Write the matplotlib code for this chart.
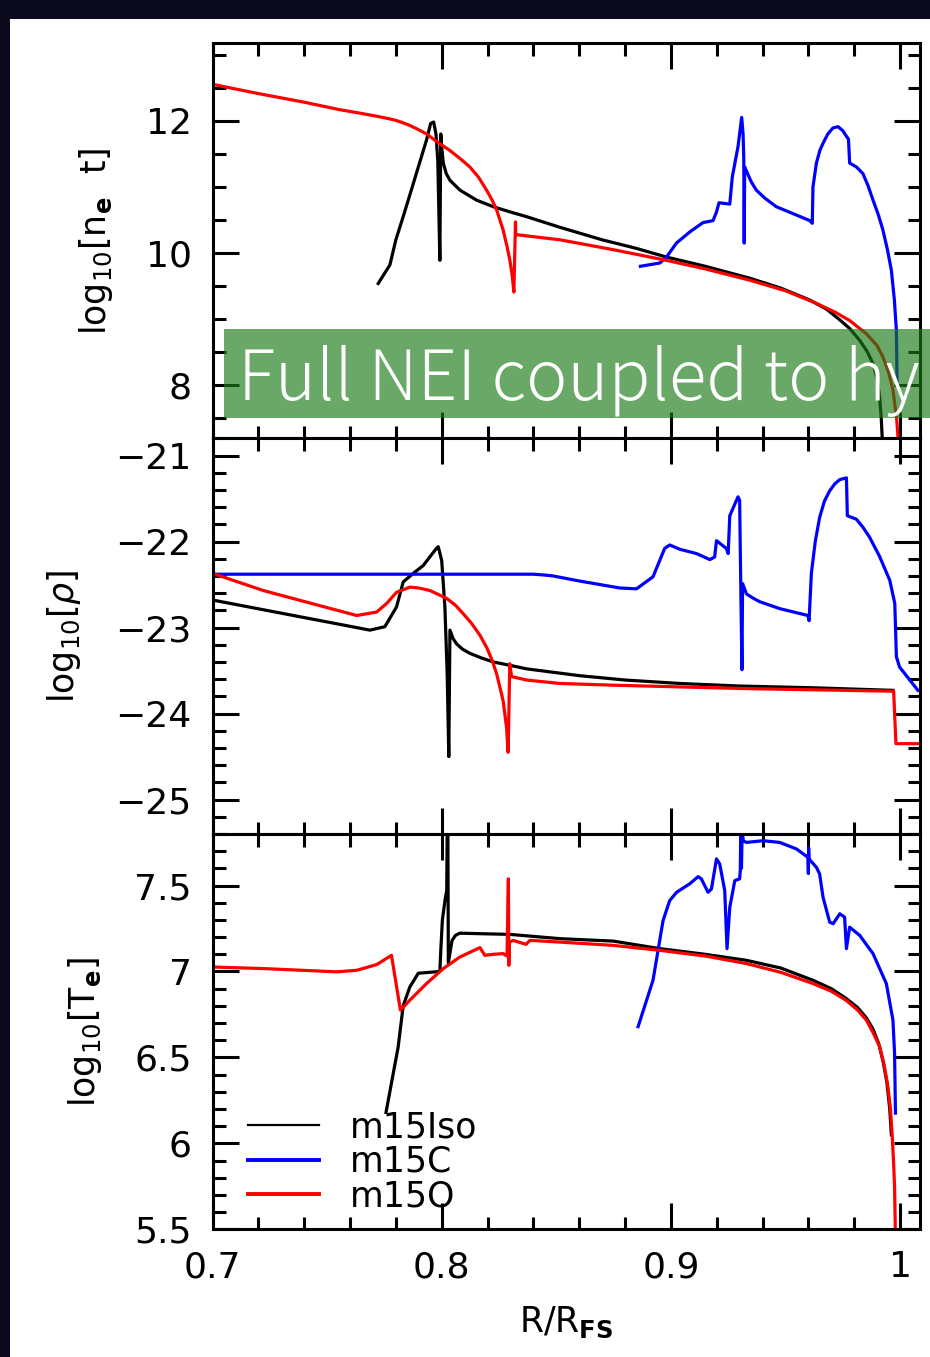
import matplotlib
matplotlib.use("Agg")
import matplotlib.pyplot as plt
from matplotlib.ticker import MultipleLocator, FuncFormatter
from matplotlib.patches import Rectangle

PLOT_FONT = "DejaVu Sans"
BANNER_FONT = "Noto Sans CJK JP"
plt.rcParams["font.family"] = [PLOT_FONT]
plt.rcParams["mathtext.fontset"] = "custom"
plt.rcParams["mathtext.rm"] = PLOT_FONT
plt.rcParams["mathtext.it"] = PLOT_FONT + ":italic"
plt.rcParams["mathtext.bf"] = PLOT_FONT + ":bold"
plt.rcParams["axes.unicode_minus"] = True

# ---------------- data: radius R/R_FS and profiles ----------------
series_names = ["m15Iso", "m15C", "m15O"]
series_colors = ["#000000", "#0000ff", "#ff0000"]

# log10[n_e t]
iso_r_net = [0.7723, 0.7774, 0.7800, 0.7832, 0.7870, 0.7905, 0.7934, 0.7952, 0.7965, 0.7975,
             0.7983, 0.7989, 0.7992, 0.7996, 0.8000, 0.8007, 0.8020, 0.8036, 0.808, 0.8152,
             0.8225, 0.830, 0.837, 0.8515, 0.870, 0.885, 0.898, 0.915, 0.9344, 0.948,
             0.9606, 0.968, 0.9737, 0.978, 0.9824, 0.9855, 0.9882, 0.9900, 0.9911, 0.9918,
             0.9925]
iso_net = [9.54, 9.82, 10.20, 10.55, 10.98, 11.38, 11.71, 11.96, 11.98, 11.80,
           11.40, 10.40, 9.89, 11.80, 11.60, 11.36, 11.20, 11.10, 10.95, 10.80,
           10.70, 10.62, 10.55, 10.39, 10.20, 10.07, 9.94, 9.80, 9.62, 9.47,
           9.29, 9.15, 8.99, 8.86, 8.68, 8.52, 8.33, 8.10, 7.82, 7.50,
           7.00]
c_r_net = [0.8867, 0.8952, 0.8981, 0.9024, 0.9083, 0.914, 0.9184, 0.9199, 0.921, 0.9257,
           0.9268, 0.9293, 0.9309, 0.9315, 0.9318, 0.9320, 0.9322, 0.9335, 0.9350, 0.9373,
           0.941, 0.946, 0.953, 0.9606, 0.9617, 0.9620, 0.9635, 0.9650, 0.9664, 0.9685,
           0.9707, 0.9729, 0.9750, 0.9765, 0.9775, 0.9780, 0.9810, 0.9838, 0.9860, 0.9882,
           0.9905, 0.9925, 0.9945, 0.9962, 0.9975, 0.9984, 0.9987]
c_net = [9.80, 9.85, 9.94, 10.15, 10.32, 10.46, 10.49, 10.62, 10.76, 10.74,
         11.15, 11.61, 12.05, 11.80, 11.45, 10.15, 11.30, 11.20, 11.08, 10.95,
         10.83, 10.70, 10.60, 10.49, 10.45, 11.00, 11.36, 11.55, 11.66, 11.80,
         11.89, 11.91, 11.85, 11.77, 11.72, 11.36, 11.30, 11.20, 11.02, 10.80,
         10.58, 10.35, 10.05, 9.74, 9.30, 8.83, 8.03]
o_r_net = [0.7, 0.72, 0.74, 0.755, 0.765, 0.772, 0.777, 0.780, 0.783, 0.786,
           0.789, 0.7934, 0.798, 0.8036, 0.809, 0.8123, 0.816, 0.8196, 0.822, 0.824,
           0.8268, 0.8285, 0.8297, 0.8308, 0.8315, 0.8322, 0.8323, 0.8345, 0.8516, 0.875,
           0.898, 0.915, 0.9344, 0.950, 0.9635, 0.972, 0.978, 0.9853, 0.990, 0.9925,
           0.995, 0.9969, 0.9985, 0.9991, 0.9995]
o_net = [12.55, 12.41, 12.28, 12.17, 12.11, 12.065, 12.03, 12.005, 11.97, 11.93,
         11.88, 11.80, 11.68, 11.55, 11.40, 11.30, 11.15, 10.95, 10.80, 10.65,
         10.35, 10.10, 9.90, 9.65, 9.41, 10.47, 10.28, 10.27, 10.20, 10.05,
         9.89, 9.76, 9.59, 9.43, 9.24, 9.10, 8.98, 8.78, 8.60, 8.43,
         8.20, 7.93, 7.50, 7.22, 7.00]

# log10[rho]
iso_r_rho = [0.7, 0.7687, 0.7752, 0.7803, 0.7832, 0.7876, 0.7919, 0.7977, 0.7985, 0.8,
             0.8014, 0.8024, 0.8031, 0.8036, 0.8050, 0.8065, 0.809, 0.8123, 0.817, 0.8225,
             0.830, 0.837, 0.8603, 0.880, 0.9039, 0.930, 0.962, 0.9969]
iso_rho = [-22.68, -23.03, -22.99, -22.76, -22.47, -22.37, -22.28, -22.08, -22.06, -22.22,
           -22.76, -23.54, -24.50, -23.03, -23.13, -23.19, -23.25, -23.30, -23.35, -23.40,
           -23.44, -23.48, -23.56, -23.61, -23.65, -23.68, -23.70, -23.73]
c_r_rho = [0.7, 0.84, 0.845, 0.8486, 0.8603, 0.8777, 0.885, 0.8922, 0.8973, 0.8995,
           0.9039, 0.9112, 0.917, 0.9191, 0.9199, 0.9242, 0.925, 0.9257, 0.9293, 0.9300,
           0.9310, 0.9313, 0.933, 0.936, 0.9388, 0.9475, 0.9598, 0.9603, 0.9613, 0.9630,
           0.9649, 0.9670, 0.9693, 0.9715, 0.9737, 0.9766, 0.9770, 0.9809, 0.9837, 0.9867,
           0.9910, 0.9955, 0.9977, 0.9984, 0.9998, 1.0078]
c_rho = [-22.38, -22.38, -22.39, -22.40, -22.46, -22.54, -22.55, -22.41, -22.08, -22.04,
         -22.09, -22.14, -22.21, -22.18, -21.99, -22.08, -22.14, -21.70, -21.48, -21.52,
         -23.49, -22.49, -22.61, -22.66, -22.70, -22.78, -22.86, -22.92, -22.37, -22.00,
         -21.72, -21.53, -21.41, -21.33, -21.28, -21.26, -21.70, -21.74, -21.83, -21.95,
         -22.17, -22.45, -22.72, -23.34, -23.46, -23.73]
o_r_rho = [0.7, 0.7222, 0.7629, 0.7716, 0.7760, 0.7803, 0.7861, 0.790, 0.7949, 0.8021,
           0.806, 0.8094, 0.813, 0.8167, 0.8196, 0.822, 0.824, 0.8268, 0.8283, 0.8290,
           0.8297, 0.8305, 0.837, 0.8516, 0.8748, 0.933, 0.9972, 0.9982, 1.009]
o_rho = [-22.37, -22.57, -22.86, -22.82, -22.72, -22.59, -22.53, -22.54, -22.57, -22.66,
         -22.74, -22.84, -22.95, -23.09, -23.23, -23.38, -23.54, -23.85, -24.16, -24.45,
         -23.42, -23.57, -23.61, -23.65, -23.67, -23.71, -23.74, -24.35, -24.35]

# log10[T_e]
iso_r_te = [0.7757, 0.781, 0.7832, 0.7861, 0.7898, 0.7992, 0.7996, 0.8003, 0.8015, 0.8022,
            0.8026, 0.8029, 0.8045, 0.806, 0.8079, 0.8167, 0.8297, 0.8516, 0.8748, 0.8952,
            0.915, 0.933, 0.948, 0.962, 0.970, 0.9765, 0.9815, 0.9853, 0.988, 0.9907,
            0.9927, 0.9943, 0.9955, 0.9962]
iso_te = [6.18, 6.56, 6.80, 6.91, 6.99, 7.00, 7.12, 7.30, 7.42, 7.47,
          8.20, 7.05, 7.18, 7.21, 7.223, 7.22, 7.216, 7.191, 7.177, 7.133,
          7.10, 7.065, 7.02, 6.949, 6.90, 6.843, 6.79, 6.73, 6.67, 6.58,
          6.47, 6.35, 6.20, 6.05]
c_r_te = [0.8857, 0.8922, 0.8944, 0.8966, 0.8995, 0.9025, 0.9082, 0.9119, 0.9133, 0.9162,
          0.9177, 0.9199, 0.9213, 0.9235, 0.9245, 0.9257, 0.9279, 0.9300, 0.9303, 0.9305,
          0.9308, 0.9311, 0.9316, 0.933, 0.9402, 0.9475, 0.9548, 0.9598, 0.9600, 0.9601,
          0.9603, 0.9635, 0.9649, 0.9664, 0.9693, 0.9708, 0.9737, 0.9758, 0.9766, 0.978,
          0.9824, 0.9882, 0.994, 0.9969, 0.9976, 0.998]
c_te = [6.679, 6.949, 7.123, 7.297, 7.413, 7.461, 7.51, 7.552, 7.539, 7.461,
        7.48, 7.655, 7.626, 7.471, 7.133, 7.374, 7.529, 7.539, 7.59, 7.82,
        7.60, 7.82, 7.76, 7.751, 7.761, 7.751, 7.713, 7.664, 7.57, 7.72,
        7.655, 7.606, 7.568, 7.432, 7.287, 7.278, 7.336, 7.316, 7.133, 7.258,
        7.21, 7.104, 6.93, 6.717, 6.524, 6.176]
o_r_te = [0.7, 0.7222, 0.7542, 0.7629, 0.7716, 0.7781, 0.782, 0.7861, 0.7934, 0.8007,
          0.8079, 0.8167, 0.8188, 0.8225, 0.8268, 0.8285, 0.8291, 0.8293, 0.8295, 0.8312,
          0.8368, 0.8385, 0.8516, 0.8748, 0.8952, 0.915, 0.933, 0.948, 0.962, 0.970,
          0.9764, 0.9815, 0.9853, 0.988, 0.9911, 0.993, 0.9947, 0.9958, 0.9966, 0.9972,
          0.9976, 0.998]
o_te = [7.026, 7.017, 6.998, 7.007, 7.04, 7.094, 6.775, 6.833, 6.93, 7.017,
        7.084, 7.139, 7.094, 7.10, 7.104, 7.09, 7.539, 7.036, 7.17, 7.181,
        7.158, 7.181, 7.171, 7.152, 7.123, 7.09, 7.046, 6.995, 6.93, 6.885,
        6.833, 6.775, 6.717, 6.65, 6.563, 6.46, 6.33, 6.20, 6.04, 5.88,
        5.75, 5.45]

panels = [
    dict(curves=[(iso_r_net, iso_net), (c_r_net, c_net), (o_r_net, o_net)],
         ylim=(7.2, 13.17), major=2, minor=0.5,
         ylabel=r"$\mathrm{log_{10}[n_{\mathbf{e}}\ \ t]}$", labx=-0.165),
    dict(curves=[(iso_r_rho, iso_rho), (c_r_rho, c_rho), (o_r_rho, o_rho)],
         ylim=(-25.4, -20.8), major=1, minor=0.2,
         ylabel=r"$\mathrm{log_{10}[}\rho\mathrm{]}$", labx=-0.21),
    dict(curves=[(iso_r_te, iso_te), (c_r_te, c_te), (o_r_te, o_te)],
         ylim=(5.5, 7.8), major=0.5, minor=0.1,
         ylabel=r"$\mathrm{log_{10}[T_{\mathbf{e}}]}$", labx=-0.18),
]

W, H = 930, 1357
fig = plt.figure(figsize=(W / 100, H / 100), dpi=100)
fig.patch.set_facecolor("white")

left, right = 212.5 / W, 920 / W
edges = [43.3, 438.3, 834.0, 1229.3]
fmt = FuncFormatter(lambda v, p: f"{v:g}".replace("-", "\u2212"))

axes = []
for i, p in enumerate(panels):
    y0 = 1 - edges[i + 1] / H
    h = (edges[i + 1] - edges[i]) / H
    ax = fig.add_axes([left, y0, right - left, h])
    for (xs, ys), name, col in zip(p["curves"], series_names, series_colors):
        ax.plot(xs, ys, color=col, lw=2.3, label=name, solid_joinstyle="round")
    ax.set_xlim(0.7, 1.0087)
    ax.set_ylim(*p["ylim"])
    ax.xaxis.set_major_locator(MultipleLocator(0.1))
    ax.xaxis.set_minor_locator(MultipleLocator(0.02))
    ax.yaxis.set_major_locator(MultipleLocator(p["major"]))
    ax.yaxis.set_minor_locator(MultipleLocator(p["minor"]))
    ax.yaxis.set_major_formatter(fmt)
    ax.xaxis.set_major_formatter(fmt)
    ax.tick_params(which="both", direction="in", top=True, right=True,
                   width=2.2, labelsize=26, pad=15, colors="black")
    ax.tick_params(which="major", length=18.5)
    ax.tick_params(which="minor", length=9)
    if i < 2:
        ax.tick_params(labelbottom=False)
    for s in ax.spines.values():
        s.set_linewidth(2.2)
    ax.set_ylabel(p["ylabel"], fontsize=25)
    ax.yaxis.label.set_va("center")
    ax.yaxis.set_label_coords(p["labx"], 0.5)
    axes.append(ax)

axb = axes[2]
axb.set_xlabel(r"$\mathrm{R/R}_{\mathbf{FS}}$", fontsize=25)
axb.xaxis.label.set_va("center")
axb.xaxis.set_label_coords(0.5, -0.235)

leg = axb.legend(loc="lower left", bbox_to_anchor=(0.05, 0.04), frameon=False,
                 fontsize=25, handlelength=2.05, handletextpad=0.9,
                 labelspacing=0.02, borderpad=0, borderaxespad=0)
for ln, lw in zip(leg.get_lines(), [1.6, 2.8, 2.8]):
    ln.set_linewidth(lw)

# slide frame and title banner
fig.add_artist(Rectangle((0, 1 - 19 / H), 1, 19 / H, transform=fig.transFigure,
                         facecolor="#0a0a1c", edgecolor="none", zorder=4))
fig.add_artist(Rectangle((0, 0), 10 / W, 1, transform=fig.transFigure,
                         facecolor="#0a0a1c", edgecolor="none", zorder=4))
fig.add_artist(Rectangle((224 / W, 1 - 418.3 / H), 1 - 224 / W, 89 / H,
                         transform=fig.transFigure, facecolor="#1a7a17",
                         alpha=0.65, edgecolor="none", zorder=5))
fig.text(238 / W, 1 - 400 / H, "Full NEI coupled to hy", color="white",
         fontsize=50, fontfamily=BANNER_FONT, fontweight="light",
         va="baseline", ha="left", zorder=6)

fig.savefig("out.png", dpi=100)
